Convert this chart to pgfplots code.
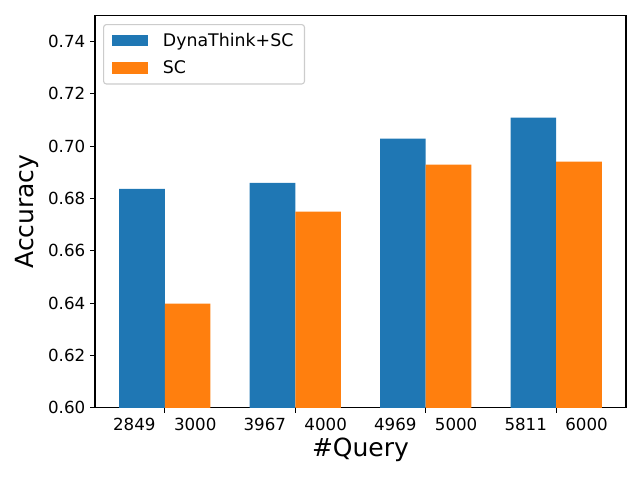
\documentclass[border=0pt]{standalone}
\usepackage{pgfplots}
\pgfplotsset{compat=1.18}
\usepackage{fontspec}
\setmainfont{DejaVu Sans}
\definecolor{mplblue}{HTML}{1F77B4}
\definecolor{mplorange}{HTML}{FF7F0E}

\begin{document}
\begin{tikzpicture}
\begin{axis}[
    at={(0pt,0pt)}, anchor=south west,
    scale only axis,
    width=382.3pt, height=282.7pt,
    xmin=-0.535, xmax=3.535,
    ymin=0.60, ymax=0.75,
    xtick={0,1,2,3},
    xticklabels={2849\hspace{13.3pt}3000, 3967\hspace{13.3pt}4000, 4969\hspace{13.3pt}5000, 5811\hspace{13.3pt}6000},
    ytick={0.60,0.62,...,0.741},
    yticklabel style={/pgf/number format/.cd, fixed, fixed zerofill, precision=2},
    /pgf/number format/assume math mode=true,
    tick label style={font=\fontsize{12}{14}\selectfont},
    tick align=outside,
    major tick length=3.5pt,
    xtick pos=bottom, ytick pos=left,
    axis line style={line width=0.8pt},
    every tick/.style={black, line width=0.8pt},
    xticklabel style={yshift=-0.5pt},
    xlabel={\#Query},
    ylabel={Accuracy},
    every axis x label/.style={at={(axis description cs:0.5,0)}, yshift=-30pt, anchor=center, font=\fontsize{18}{21}\selectfont},
    every axis y label/.style={at={(axis description cs:0,0.5)}, xshift=-49pt, rotate=90, anchor=center, font=\fontsize{18}{21}\selectfont},
    legend style={
        at={(axis description cs:0,1)}, anchor=north west,
        xshift=5.8pt, yshift=-6.3pt,
        draw=black!20, rounded corners=2pt, line width=0.8pt,
        font=\fontsize{12.5}{14}\selectfont,
        inner xsep=6pt, inner ysep=4pt,
        row sep=5pt,
        legend cell align=left,
        /tikz/every even column/.append style={column sep=0pt},
    },
    legend image code/.code={\fill[#1, sharp corners] (0pt,-4.2pt) rectangle (25.7pt,4.2pt);},
    clip=true,
]
\addplot[ybar, bar width=0.35, bar shift=-0.175, fill=mplblue, draw=none]
    coordinates {(0,0.6837) (1,0.6860) (2,0.7029) (3,0.7109)};
\addlegendentry{\hspace{9pt}DynaThink+SC}
\addplot[ybar, bar width=0.35, bar shift=0.175, fill=mplorange, draw=none]
    coordinates {(0,0.6398) (1,0.6750) (2,0.6929) (3,0.6941)};
\addlegendentry{\hspace{9pt}SC}
\end{axis}
\pgfresetboundingbox
\path[use as bounding box] (-68.4pt,-51.8pt) rectangle (392.4pt,293.7pt);
\end{tikzpicture}
\end{document}
